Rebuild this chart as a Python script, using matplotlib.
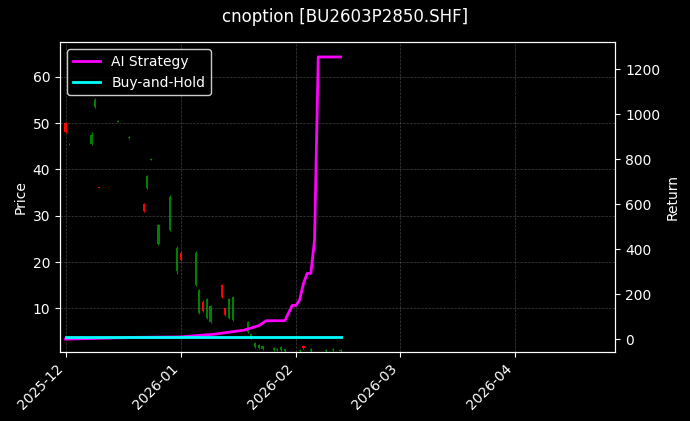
import matplotlib
matplotlib.use("Agg")
import matplotlib.pyplot as plt
import matplotlib.dates as mdates
import pandas as pd

plt.style.use("dark_background")

# candles: date, open, close, high, low
candle_dates = ["2025-12-01", "2025-12-02", "2025-12-08", "2025-12-09", "2025-12-10", "2025-12-15",
                "2025-12-18", "2025-12-22", "2025-12-23", "2025-12-24", "2025-12-26", "2025-12-29",
                "2025-12-31", "2026-01-01", "2026-01-05", "2026-01-06", "2026-01-07", "2026-01-08",
                "2026-01-09", "2026-01-12", "2026-01-13", "2026-01-14", "2026-01-15", "2026-01-19",
                "2026-01-20", "2026-01-21", "2026-01-22", "2026-01-23", "2026-01-26", "2026-01-27",
                "2026-01-28", "2026-01-29", "2026-02-02", "2026-02-03", "2026-02-05", "2026-02-09",
                "2026-02-11", "2026-02-13"]
opens = [48.0, 45.6, 47.5, 55.0, 36.0, 50.5, 47.0, 31.0, 38.5, 42.3, 28.0, 34.0,
         23.0, 20.5, 22.0, 14.0, 9.5, 12.0, 10.5, 12.5, 8.5, 12.0, 12.5, 7.0,
         4.5, 2.5, 2.2, 1.8, 1.5, 1.3, 1.6, 1.2, 1.0, 1.5, 1.2, 1.0, 1.2, 1.0]
closes = [50.0, 45.4, 45.5, 53.5, 36.2, 50.3, 46.8, 32.5, 36.0, 42.1, 24.0, 27.0,
          18.0, 22.0, 15.0, 9.0, 11.5, 8.0, 7.0, 15.0, 10.0, 8.0, 7.5, 5.0,
          3.5, 1.6, 1.4, 1.2, 1.0, 1.0, 1.0, 0.8, 0.8, 2.0, 0.9, 0.9, 1.0, 0.8]
highs = [50.2, 45.8, 48.0, 55.5, 36.3, 50.6, 47.2, 32.8, 38.8, 42.5, 28.3, 34.5,
         23.5, 22.3, 22.3, 14.2, 11.8, 12.3, 10.8, 15.3, 10.2, 12.2, 12.7, 7.2,
         4.7, 2.7, 2.4, 2.0, 1.7, 1.5, 1.8, 1.4, 1.2, 2.2, 1.4, 1.2, 1.4, 1.2]
lows = [47.8, 45.3, 45.3, 53.3, 35.9, 50.2, 46.6, 30.8, 35.8, 42.0, 23.8, 26.8,
        17.5, 20.3, 14.8, 8.8, 9.3, 7.8, 6.8, 12.3, 8.3, 7.8, 7.3, 4.8,
        3.3, 1.4, 1.2, 1.0, 0.8, 0.8, 0.8, 0.6, 0.6, 1.3, 0.7, 0.7, 0.8, 0.6]

# strategy returns
ret_dates = ["2025-12-01", "2025-12-20", "2026-01-01", "2026-01-10", "2026-01-18", "2026-01-22",
             "2026-01-24", "2026-01-29", "2026-01-31", "2026-02-01", "2026-02-02", "2026-02-03",
             "2026-02-04", "2026-02-05", "2026-02-06", "2026-02-07", "2026-02-13"]
ai_ret = [0, 8, 10, 22, 40, 60, 82, 82, 150, 150, 175, 246, 292, 292, 440, 1254, 1254]
bh_ret = [8] * len(ret_dates)

fig = plt.figure(figsize=(6.9, 4.21), dpi=100)
fig.patch.set_facecolor("black")
ax = fig.add_axes([0.087, 0.165, 0.805, 0.735])
ax.set_facecolor("black")

d = pd.to_datetime(candle_dates)
for t, o, c, h, l in zip(d, opens, closes, highs, lows):
    col = "red" if c >= o else "green"
    x = mdates.date2num(t)
    ax.vlines(x, l, h, color=col, linewidth=0.8)
    ax.bar(x, abs(c - o) if abs(c - o) > 0.2 else 0.2, bottom=min(o, c), width=0.6, color=col)

ax.set_ylim(0.7, 67.5)
ax.set_ylabel("Price")
ax.set_xlim(mdates.date2num(pd.Timestamp("2025-11-29 12:00")), mdates.date2num(pd.Timestamp("2026-04-28")))
ax.xaxis.set_major_locator(mdates.MonthLocator())
ax.xaxis.set_major_formatter(mdates.DateFormatter("%Y-%m"))
plt.setp(ax.get_xticklabels(), rotation=45, ha="right")
ax.grid(True, color="gray", linestyle="--", linewidth=0.5, alpha=0.5)

ax2 = ax.twinx()
rd = pd.to_datetime(ret_dates)
ax2.plot(rd, ai_ret, color="magenta", linewidth=2, label="AI Strategy")
ax2.plot(rd, bh_ret, color="cyan", linewidth=2, label="Buy-and-Hold")
ax2.set_ylim(-55, 1320)
ax2.set_ylabel("Return")
ax2.legend(loc="upper left", facecolor="black", edgecolor="white")

fig.suptitle("cnoption [BU2603P2850.SHF]", y=0.98)
fig.savefig("out.png", dpi=100, facecolor="black")
